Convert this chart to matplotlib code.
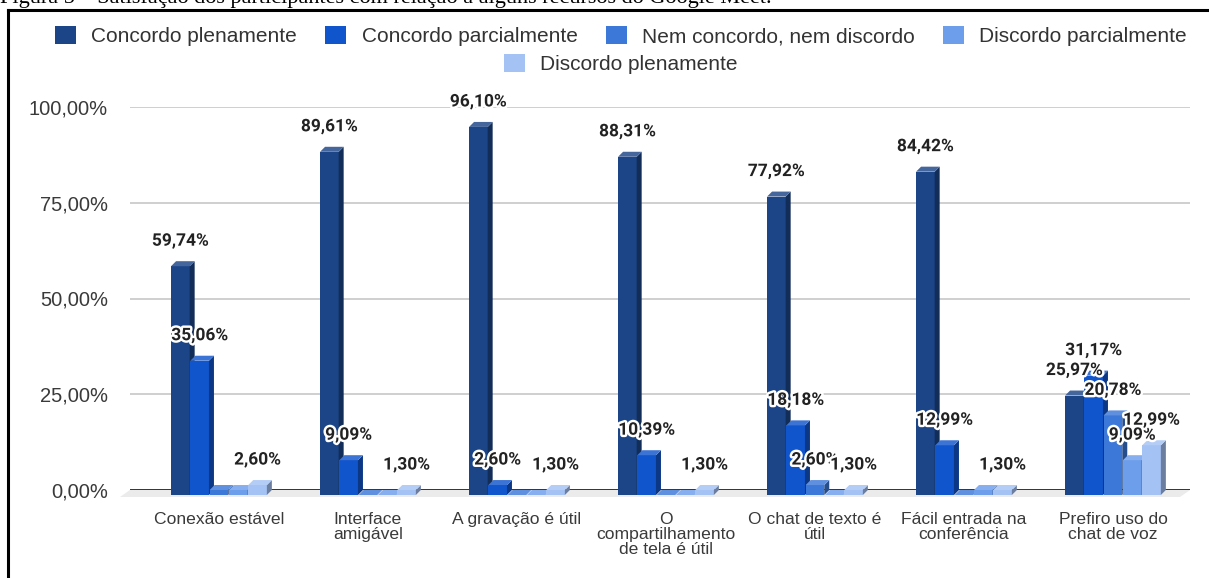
import numpy as np
import matplotlib.pyplot as plt
from matplotlib.patches import Polygon, Patch
from matplotlib.lines import Line2D
import matplotlib.patheffects as pe

# respostas (%) por recurso
categorias = ['Conexão estável', 'Interface\namigável', 'A gravação é útil',
              'O\ncompartilhamento\nde tela é útil', 'O chat de texto é\nútil',
              'Fácil entrada na\nconferência', 'Prefiro uso do\nchat de voz']
series = ['Concordo plenamente', 'Concordo parcialmente', 'Nem concordo, nem discordo',
          'Discordo parcialmente', 'Discordo plenamente']
concordo_plen = [59.74, 89.61, 96.10, 88.31, 77.92, 84.42, 25.97]
concordo_parc = [35.06, 9.09, 2.60, 10.39, 18.18, 12.99, 31.17]
nem_nem = [1.30, 0.0, 0.0, 0.0, 2.60, 0.0, 20.78]
discordo_parc = [1.30, 0.0, 0.0, 0.0, 0.0, 1.30, 9.09]
discordo_plen = [2.60, 1.30, 1.30, 1.30, 1.30, 1.30, 12.99]
# rotulos que aparecem no grafico (indice da serie)
rotulos_visiveis = [[0, 1, 4], [0, 1, 4], [0, 1, 4], [0, 1, 4],
                    [0, 1, 2, 4], [0, 1, 4], [0, 1, 2, 3, 4]]
cores = ['#1c4587', '#1155cc', '#3c78d8', '#6d9eeb', '#a4c2f4']
yticks = [0, 25, 50, 75, 100]

valores = np.array([concordo_plen, concordo_parc, nem_nem, discordo_parc, discordo_plen])


def mistura(cor, alvo, t):
    c = np.array(plt.matplotlib.colors.to_rgb(cor))
    a = np.array(plt.matplotlib.colors.to_rgb(alvo))
    return tuple(c * (1 - t) + a * t)


W, H = 1209, 578
fig = plt.figure(figsize=(W / 100, H / 100), dpi=100)
ax = fig.add_axes([130 / W, 1 - 490 / H, 1060 / W, 383 / H])
xmin, xmax = -0.597, 6.517
ax.set_xlim(xmin, xmax)
ax.set_ylim(0, 100)

# conversao pixel -> dados
px_x = (xmax - xmin) / 1060
px_y = 100 / 383
dx, dy = 5 * px_x, 5 * px_y
passo = 19.3 * px_x
larg = 18.6 * px_x

# grade e piso
for t in yticks[1:]:
    ax.axhline(t, color='#cccccc', lw=1.3, zorder=1)
piso = Polygon([(xmin, 0), (xmax, 0), (xmax - 2 * dx, -1.4 * dy), (xmin - 2 * dx, -1.4 * dy)],
               closed=True, facecolor='#ebebeb', edgecolor='none', clip_on=False, zorder=1)
ax.add_patch(piso)
ax.axhline(0, color='#333333', lw=1.4, zorder=2)

z = 3
for i in range(len(categorias)):
    for j in range(len(series)):
        v = valores[j, i]
        xc = i + (j - 2) * passo
        x0 = xc - larg / 2
        cor = cores[j]
        ax.bar(xc, v, width=larg, bottom=-dy, color=cor, clip_on=False, zorder=z,
               edgecolor='none')
        lado = Polygon([(x0 + larg, -dy), (x0 + larg + dx, 0), (x0 + larg + dx, v),
                        (x0 + larg, v - dy)], closed=True,
                       facecolor=mistura(cor, 'black', 0.35), edgecolor='none',
                       clip_on=False, zorder=z)
        topo = Polygon([(x0, v - dy), (x0 + dx, v), (x0 + larg + dx, v), (x0 + larg, v - dy)],
                       closed=True, facecolor=mistura(cor, 'white', 0.18),
                       edgecolor='none', clip_on=False, zorder=z)
        ax.add_patch(lado)
        ax.add_patch(topo)
        z += 1

# rotulos de dados
for i in range(len(categorias)):
    for j in rotulos_visiveis[i]:
        v = valores[j, i]
        xc = i + (j - 2) * passo
        ax.annotate(f'{v:.2f}%'.replace('.', ','), xy=(xc, v), xytext=(0, 20),
                    textcoords='offset pixels', ha='center', va='center',
                    fontsize=12.5, fontweight='bold', family='Roboto', color='#222222',
                    zorder=200, annotation_clip=False,
                    path_effects=[pe.withStroke(linewidth=3.5, foreground='white')])

for s in ax.spines.values():
    s.set_visible(False)
ax.set_yticks(yticks)
ax.set_yticklabels([f'{t:.2f}%'.replace('.', ',') for t in yticks])
ax.set_xticks(range(len(categorias)))
ax.set_xticklabels(categorias, linespacing=1.0)
ax.tick_params(axis='y', length=0, pad=16, labelsize=14.5, labelcolor='#3a3a3a')
ax.tick_params(axis='x', length=0, pad=16, labelsize=12.6, labelcolor='#3a3a3a')
for lbl in ax.get_xticklabels() + ax.get_yticklabels():
    lbl.set_family('Liberation Sans')

# legenda em duas linhas
alcas = [Patch(facecolor=c, edgecolor='none') for c in cores]
kw = dict(frameon=False, handlelength=1.0, handleheight=1.0,
          handletextpad=0.75, columnspacing=1.35, borderpad=0, loc='center',
          prop={'family': 'Liberation Sans', 'size': 15})
leg1 = fig.legend(alcas[:4], series[:4], ncol=4, bbox_to_anchor=(621 / W, 1 - 36 / H), **kw)
leg2 = fig.legend(alcas[4:], series[4:], ncol=1, bbox_to_anchor=(621 / W, 1 - 64 / H), **kw)
for leg in (leg1, leg2):
    for t in leg.get_texts():
        t.set_color('#333333')

# titulo da figura e moldura
fig.text(0, 1 - 3 / H, 'Figura 5 – Satisfação dos participantes com relação a alguns '
         'recursos do Google Meet.', family='Liberation Serif', fontsize=16,
         va='baseline', ha='left', color='black')
fig.add_artist(Line2D([8 / W, 8 / W], [0, 1 - 10 / H], color='black', lw=2.2))
fig.add_artist(Line2D([8 / W, 1], [1 - 10 / H, 1 - 10 / H], color='black', lw=2.2))

fig.savefig('out.png', dpi=100)
